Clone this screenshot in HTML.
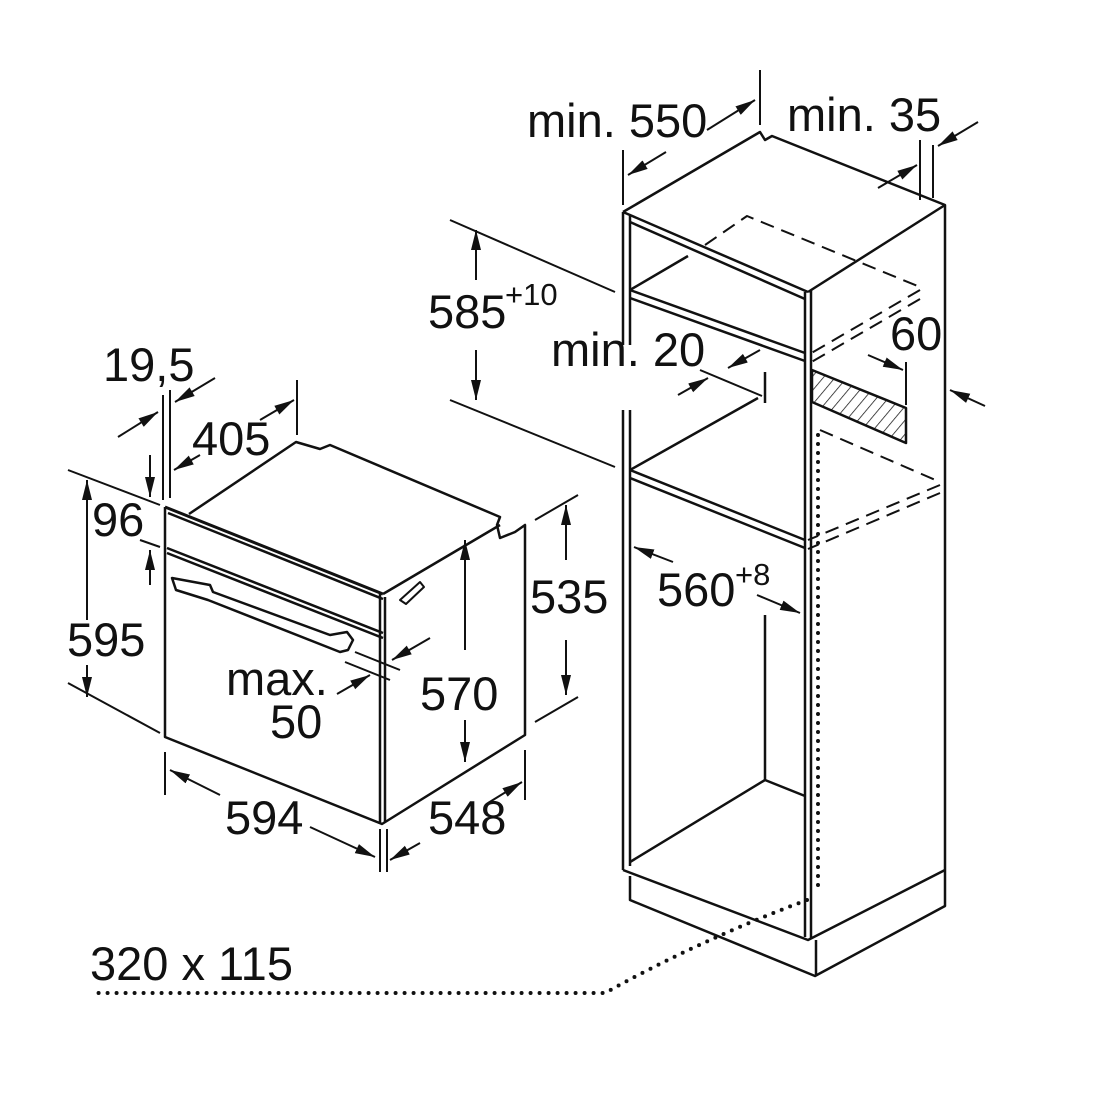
<!DOCTYPE html>
<html><head><meta charset="utf-8"><style>
html,body{margin:0;padding:0;background:#fff;}
svg{display:block;}
text{font-family:"Liberation Sans",sans-serif;font-size:47px;fill:#111;}
.s{font-size:31px;}
</style></head><body>
<svg width="1100" height="1100" viewBox="0 0 1100 1100" xmlns="http://www.w3.org/2000/svg">
<defs>
<marker id="b" viewBox="0 0 20 10" refX="20" refY="5" markerWidth="20" markerHeight="11" markerUnits="userSpaceOnUse" orient="auto"><path d="M0,0 L20,5 L0,10z" fill="#111"/></marker>
<pattern id="h" width="9" height="9" patternUnits="userSpaceOnUse" patternTransform="rotate(40)"><line x1="0" y1="0" x2="0" y2="9" stroke="#111" stroke-width="1.5"/></pattern>
</defs>
<g fill="none" stroke="#111" stroke-width="2.5" stroke-linejoin="round">
<!-- CABINET -->
<polyline points="623,212 760,132 765,140 772,136 945,205 945,870"/>
<line x1="623" y1="212" x2="808" y2="292"/>
<line x1="808" y1="292" x2="945" y2="205"/>
<line x1="623" y1="212" x2="623" y2="345"/><line x1="630" y1="216" x2="630" y2="345"/>
<line x1="623" y1="410" x2="623" y2="870"/><line x1="630" y1="410" x2="630" y2="866"/>
<line x1="805" y1="292" x2="805" y2="937"/><line x1="811" y1="290" x2="811" y2="938"/>
<line x1="630" y1="222" x2="805" y2="299"/>
<line x1="630" y1="290" x2="805" y2="353"/><line x1="630" y1="298" x2="805" y2="361"/>
<line x1="630" y1="290" x2="688" y2="256"/>
<line x1="630" y1="470" x2="805" y2="540"/><line x1="630" y1="478" x2="805" y2="548"/>
<line x1="630" y1="470" x2="758" y2="398"/>
<line x1="765" y1="372" x2="765" y2="403"/>
<line x1="765" y1="780" x2="765" y2="615"/>
<line x1="765" y1="780" x2="630" y2="862"/>
<line x1="765" y1="780" x2="805" y2="796"/>
<polyline points="623,870 808,940 945,870"/>
<polyline points="630,876 630,900 815,976 945,906 945,870"/>
<line x1="816" y1="940" x2="816" y2="976"/>
<g stroke-dasharray="14,8" stroke-width="2">
<polyline points="705,245 747,216 920,287"/>
<line x1="920" y1="290" x2="808" y2="355"/><line x1="920" y1="299" x2="808" y2="364"/>
<line x1="820" y1="430" x2="940" y2="482"/>
<line x1="940" y1="485" x2="808" y2="540"/><line x1="940" y1="493" x2="808" y2="549"/>
</g>
<polygon points="812,370 906,408 906,443 812,402" fill="url(#h)"/>
<g stroke-dasharray="0,9" stroke-linecap="round" stroke-width="4">
<line x1="818" y1="435" x2="818" y2="890"/>
<path d="M807,900 Q700,940 605,993 L90,993"/>
</g>
<!-- cabinet dims -->
<line x1="760" y1="70" x2="760" y2="125" stroke-width="2"/>
<line x1="623" y1="150" x2="623" y2="205" stroke-width="2"/>
<line x1="707" y1="130" x2="755" y2="100" stroke-width="2" marker-end="url(#b)"/>
<line x1="666" y1="152" x2="628" y2="175" stroke-width="2" marker-end="url(#b)"/>
<line x1="920" y1="140" x2="920" y2="200" stroke-width="2"/>
<line x1="933" y1="145" x2="933" y2="198" stroke-width="2"/>
<line x1="878" y1="188" x2="917" y2="165" stroke-width="2" marker-end="url(#b)"/>
<line x1="978" y1="122" x2="938" y2="146" stroke-width="2" marker-end="url(#b)"/>
<line x1="450" y1="220" x2="615" y2="292" stroke-width="2"/>
<line x1="450" y1="400" x2="615" y2="467" stroke-width="2"/>
<line x1="476" y1="280" x2="476" y2="230" stroke-width="2" marker-end="url(#b)"/>
<line x1="476" y1="350" x2="476" y2="400" stroke-width="2" marker-end="url(#b)"/>
<line x1="700" y1="370" x2="762" y2="396" stroke-width="2"/>
<line x1="760" y1="350" x2="728" y2="368" stroke-width="2" marker-end="url(#b)"/>
<line x1="678" y1="395" x2="708" y2="378" stroke-width="2" marker-end="url(#b)"/>
<line x1="906" y1="362" x2="906" y2="405" stroke-width="2"/>
<line x1="868" y1="355" x2="903" y2="370" stroke-width="2" marker-end="url(#b)"/>
<line x1="985" y1="406" x2="950" y2="390" stroke-width="2" marker-end="url(#b)"/>
<line x1="673" y1="562" x2="634" y2="547" stroke-width="2" marker-end="url(#b)"/>
<line x1="757" y1="595" x2="800" y2="613" stroke-width="2" marker-end="url(#b)"/>
<!-- OVEN -->
<polyline points="189,514 296,442 320,449 330,445 500,517 497,525 500,538 515,532 525,525 525,735 382,824 165,737 165,507"/>
<line x1="165" y1="507" x2="383" y2="594" stroke-width="3"/>
<line x1="168" y1="513" x2="383" y2="599"/>
<line x1="383" y1="594" x2="500" y2="525"/>
<line x1="380" y1="594" x2="380" y2="824"/><line x1="385" y1="597" x2="385" y2="822"/>
<line x1="167" y1="548" x2="383" y2="633"/><line x1="167" y1="553" x2="383" y2="638"/>
<path d="M172,578 L210,585 L213,592 L330,635 L347,632 L353,640 L348,650 L340,652 L208,600 L176,590 Z"/>
<path d="M400,600 L420,582 L424,587 L406,604 Z" stroke-width="2"/>
<!-- oven dims -->
<line x1="163" y1="395" x2="163" y2="500" stroke-width="2"/>
<line x1="170" y1="390" x2="170" y2="498" stroke-width="2"/>
<line x1="118" y1="437" x2="158" y2="412" stroke-width="2" marker-end="url(#b)"/>
<line x1="215" y1="378" x2="175" y2="402" stroke-width="2" marker-end="url(#b)"/>
<line x1="297" y1="380" x2="297" y2="435" stroke-width="2"/>
<line x1="260" y1="420" x2="294" y2="400" stroke-width="2" marker-end="url(#b)"/>
<line x1="200" y1="455" x2="174" y2="470" stroke-width="2" marker-end="url(#b)"/>
<line x1="150" y1="455" x2="150" y2="497" stroke-width="2" marker-end="url(#b)"/>
<line x1="150" y1="585" x2="150" y2="550" stroke-width="2" marker-end="url(#b)"/>
<line x1="68" y1="470" x2="160" y2="505" stroke-width="2"/>
<line x1="140" y1="540" x2="160" y2="547" stroke-width="2"/>
<line x1="68" y1="683" x2="160" y2="733" stroke-width="2"/>
<line x1="87" y1="620" x2="87" y2="480" stroke-width="2" marker-end="url(#b)"/>
<line x1="87" y1="665" x2="87" y2="697" stroke-width="2" marker-end="url(#b)"/>
<line x1="165" y1="752" x2="165" y2="795" stroke-width="2"/>
<line x1="380" y1="829" x2="380" y2="872" stroke-width="2"/>
<line x1="387" y1="829" x2="387" y2="872" stroke-width="2"/>
<line x1="525" y1="750" x2="525" y2="800" stroke-width="2"/>
<line x1="220" y1="795" x2="170" y2="770" stroke-width="2" marker-end="url(#b)"/>
<line x1="310" y1="827" x2="375" y2="857" stroke-width="2" marker-end="url(#b)"/>
<line x1="488" y1="803" x2="522" y2="782" stroke-width="2" marker-end="url(#b)"/>
<line x1="420" y1="843" x2="390" y2="860" stroke-width="2" marker-end="url(#b)"/>
<line x1="535" y1="520" x2="578" y2="495" stroke-width="2"/>
<line x1="535" y1="722" x2="578" y2="697" stroke-width="2"/>
<line x1="566" y1="560" x2="566" y2="505" stroke-width="2" marker-end="url(#b)"/>
<line x1="566" y1="640" x2="566" y2="695" stroke-width="2" marker-end="url(#b)"/>
<line x1="465" y1="650" x2="465" y2="540" stroke-width="2" marker-end="url(#b)"/>
<line x1="465" y1="720" x2="465" y2="762" stroke-width="2" marker-end="url(#b)"/>
<line x1="355" y1="652" x2="400" y2="670" stroke-width="2"/>
<line x1="345" y1="662" x2="390" y2="680" stroke-width="2"/>
<line x1="430" y1="638" x2="392" y2="660" stroke-width="2" marker-end="url(#b)"/>
<line x1="337" y1="694" x2="370" y2="675" stroke-width="2" marker-end="url(#b)"/>
</g>
<text x="527" y="137">min. 550</text>
<text x="787" y="131">min. 35</text>
<text x="428" y="328">585</text><text class="s" x="505" y="305">+10</text>
<text x="551" y="366">min. 20</text>
<text x="890" y="350">60</text>
<text x="657" y="606">560</text><text class="s" x="735" y="585">+8</text>
<text x="103" y="381">19,5</text>
<text x="192" y="455">405</text>
<text x="92" y="536">96</text>
<text x="67" y="656">595</text>
<text x="530" y="613">535</text>
<text x="226" y="695">max.</text>
<text x="270" y="738">50</text>
<text x="420" y="710">570</text>
<text x="225" y="834">594</text>
<text x="428" y="834">548</text>
<text x="90" y="980">320 x 115</text>
</svg>
</body></html>
